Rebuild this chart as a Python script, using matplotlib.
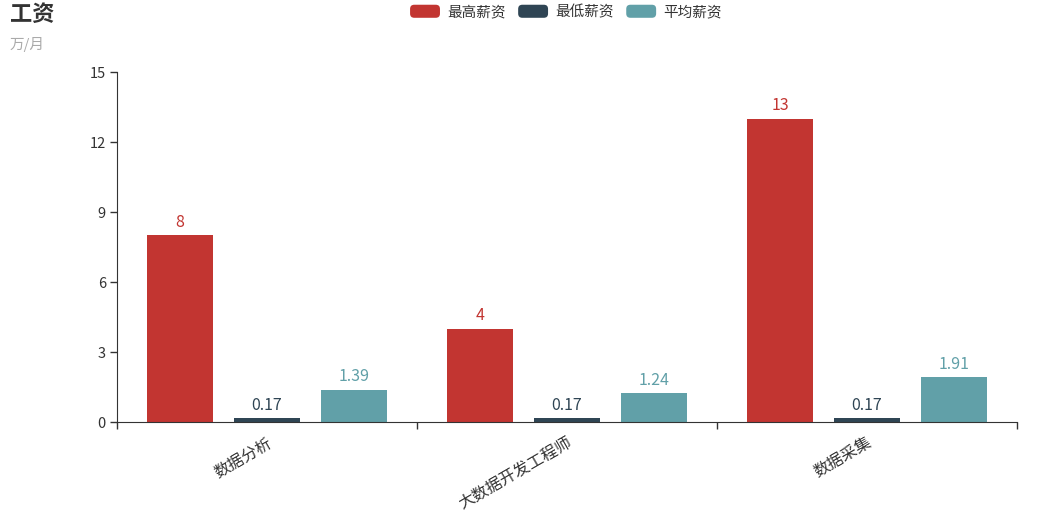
import matplotlib.pyplot as plt
import numpy as np
from matplotlib.patches import FancyBboxPatch, Patch
from matplotlib.legend_handler import HandlerPatch

plt.rcParams['font.family'] = ['Noto Sans CJK SC', 'DejaVu Sans']

categories = ['数据分析', '大数据开发工程师', '数据采集']
series_names = ['最高薪资', '最低薪资', '平均薪资']
max_pay = [8, 4, 13]
min_pay = [0.17, 0.17, 0.17]
avg_pay = [1.39, 1.24, 1.91]
colors = ['#c23531', '#2f4554', '#61a0a8']
y_ticks = [0, 3, 6, 9, 12, 15]

fig = plt.figure(figsize=(10.42, 5.13), dpi=100)
ax = fig.add_axes([117 / 1042, 91 / 513, 900 / 1042, 350 / 513])

ind = np.arange(len(categories))
width = 0.22
offsets = [-0.29, 0.0, 0.29]
all_series = [max_pay, min_pay, avg_pay]

for vals, off, c in zip(all_series, offsets, colors):
    rects = ax.bar(ind + off, vals, width, color=c)
    for rect, v in zip(rects, vals):
        ax.annotate('%g' % v, (rect.get_x() + rect.get_width() / 2, rect.get_height()),
                    xytext=(0, 3), textcoords='offset points',
                    ha='center', va='bottom', color=c, fontsize=11.5)

ax.set_xlim(-0.5, len(categories) - 0.5)
ax.set_ylim(0, 15)
ax.set_yticks(y_ticks)
ax.tick_params(axis='y', colors='#333333', labelsize=10.5, length=5, width=1, pad=3)

# 分类刻度在边界上，标签在中间
ax.set_xticks(np.arange(len(categories) + 1) - 0.5)
ax.set_xticklabels([])
ax.tick_params(axis='x', which='major', length=5, width=1, color='#333333', direction='out')
ax.set_xticks(ind, minor=True)
ax.set_xticklabels(categories, minor=True, rotation=30, ha='right',
                   rotation_mode='anchor', fontsize=11.5, color='#333333')
ax.tick_params(axis='x', which='minor', length=0, pad=9)

for s in ['top', 'right']:
    ax.spines[s].set_visible(False)
for s in ['left', 'bottom']:
    ax.spines[s].set_color('#333333')

fig.text(10 / 1042, 1 - 14 / 513, '工资', fontsize=16, fontweight='bold',
         color='#333333', va='center', ha='left')
fig.text(10 / 1042, 1 - 45 / 513, '万/月', fontsize=10.5, color='#aaaaaa',
         va='center', ha='left')


class RoundBox(HandlerPatch):
    def create_artists(self, legend, orig_handle, xdescent, ydescent, width, height, fontsize, trans):
        p = FancyBboxPatch((-xdescent, -ydescent), width, height,
                           boxstyle='round,pad=0,rounding_size=3',
                           facecolor=orig_handle.get_facecolor(), edgecolor='none',
                           transform=trans)
        return [p]


handles = [Patch(facecolor=c) for c in colors]
fig.legend(handles, series_names, loc='center', bbox_to_anchor=(566 / 1042, 1 - 12 / 513),
           ncol=3, frameon=False, fontsize=10.5, handlelength=2.05, handleheight=1.0,
           handletextpad=0.5, columnspacing=0.85,
           handler_map={Patch: RoundBox()}, labelcolor='#333333')

plt.savefig('out.png', dpi=100)
